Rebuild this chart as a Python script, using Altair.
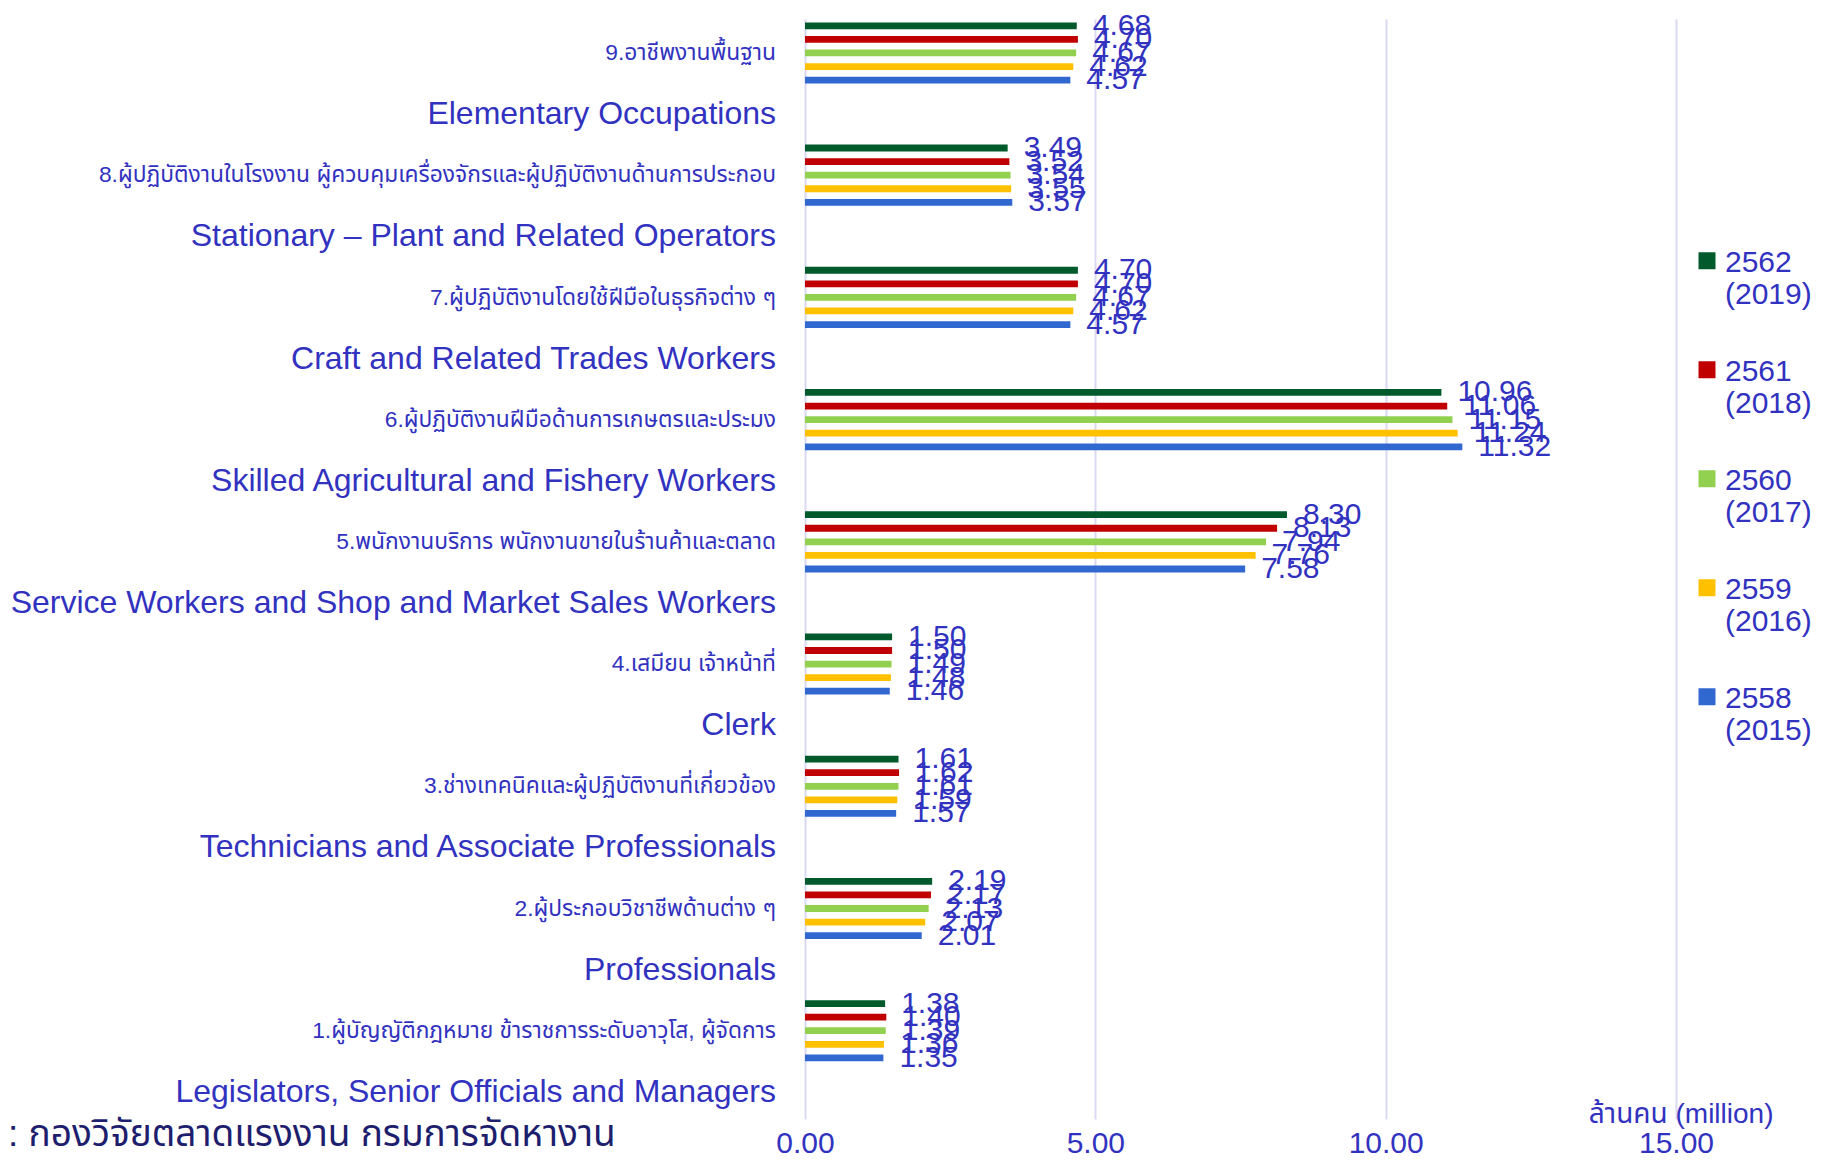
import altair as alt
import pandas as pd

# ---- data (top to bottom as in the chart) ----
categories = ["9", "8", "7", "6", "5", "4", "3", "2", "1"]
thai_labels = [
    "9.อาชีพงานพื้นฐาน",
    "8.ผู้ปฏิบัติงานในโรงงาน  ผู้ควบคุมเครื่องจักรและผู้ปฏิบัติงานด้านการประกอบ",
    "7.ผู้ปฏิบัติงานโดยใช้ฝีมือในธุรกิจต่าง ๆ",
    "6.ผู้ปฏิบัติงานฝีมือด้านการเกษตรและประมง",
    "5.พนักงานบริการ  พนักงานขายในร้านค้าและตลาด",
    "4.เสมียน  เจ้าหน้าที่",
    "3.ช่างเทคนิคและผู้ปฏิบัติงานที่เกี่ยวข้อง",
    "2.ผู้ประกอบวิชาชีพด้านต่าง ๆ",
    "1.ผู้บัญญัติกฎหมาย  ข้าราชการระดับอาวุโส,  ผู้จัดการ",
]
english_labels = [
    "Elementary Occupations",
    "Stationary – Plant  and  Related  Operators",
    "Craft and Related Trades Workers",
    "Skilled Agricultural and Fishery Workers",
    "Service Workers and Shop and Market Sales Workers",
    "Clerk",
    "Technicians  and  Associate Professionals",
    "Professionals",
    "Legislators, Senior Officials and Managers",
]
years = ["2562 (2019)", "2561 (2018)", "2560 (2017)", "2559 (2016)", "2558 (2015)"]
colors = ["#005A2B", "#C00000", "#92D050", "#FFC000", "#3068D0"]

v2562 = [4.68, 3.49, 4.70, 10.96, 8.30, 1.50, 1.61, 2.19, 1.38]
v2561 = [4.70, 3.52, 4.70, 11.06, 8.13, 1.50, 1.62, 2.17, 1.40]
v2560 = [4.67, 3.54, 4.67, 11.15, 7.94, 1.49, 1.61, 2.13, 1.39]
v2559 = [4.62, 3.55, 4.62, 11.24, 7.76, 1.48, 1.59, 2.07, 1.36]
v2558 = [4.57, 3.57, 4.57, 11.32, 7.58, 1.46, 1.57, 2.01, 1.35]

x_ticks = [0, 5, 10, 15]
x_title = "ล้านคน (million)"
footer = [": กองวิจัยตลาดแรงงาน  กรมการจัดหางาน"]

series = [v2562, v2561, v2560, v2559, v2558]
rows = []
for yr, vals in zip(years, series):
    for c, v in zip(categories, vals):
        rows.append({"cat": c, "year": yr, "value": v})
df = pd.DataFrame(rows)
lab = pd.DataFrame({"cat": categories, "thai": thai_labels, "eng": english_labels})
foot = pd.DataFrame({"t": footer})

TXT = "#3232C0"
FONT = "Liberation Sans, Arial, sans-serif"
THAI_FONT = "Liberation Sans, Noto Sans Thai, Loma, Garuda, sans-serif"
W, H = 871, 1100

yscale = alt.Scale(domain=categories, paddingInner=0, paddingOuter=0)
offscale = alt.Scale(domain=years + ["_a", "_b", "_c", "_d"], paddingInner=0.5, paddingOuter=0.25)
xscale = alt.Scale(domain=[0, 15], nice=False)

bars = alt.Chart(df).mark_bar().encode(
    x=alt.X("value:Q", scale=xscale,
            axis=alt.Axis(values=x_ticks, format=".2f", grid=True, gridColor="#D9D9F2",
                          gridWidth=2, domain=False, ticks=False, labelFontSize=30,
                          labelFlush=False,
                          labelColor=TXT, labelFont=FONT, labelPadding=9,
                          title=x_title, titleFont=THAI_FONT, titleFontSize=28,
                          titleFontWeight="normal", titleColor=TXT, titleAnchor="start",
                          titleAlign="right", titleBaseline="middle", titleX=968, titleY=-5)),
    y=alt.Y("cat:N", scale=yscale, axis=None),
    yOffset=alt.YOffset("year:N", scale=offscale),
    color=alt.Color("year:N", scale=alt.Scale(domain=years, range=colors),
                    legend=alt.Legend(title=None, orient="none", legendX=887, legendY=214,
                                      symbolType="M-1,0.5H1V2.5H-1Z", symbolSize=289,
                                      symbolStrokeWidth=0,
                                      labelFont=FONT, labelFontSize=30, labelColor=TXT,
                                      labelOffset=3, rowPadding=32, labelBaseline="top",
                                      labelExpr="split(datum.label, ' ')")),
)

values = alt.Chart(df).mark_text(align="left", baseline="middle", dx=16, fontSize=30,
                                 font=FONT, color=TXT).encode(
    x=alt.X("value:Q", scale=xscale),
    y=alt.Y("cat:N", scale=yscale, axis=None),
    yOffset=alt.YOffset("year:N", scale=offscale),
    text=alt.Text("value:Q", format=".2f"),
)

thai = alt.Chart(lab).mark_text(align="right", baseline="middle", dy=-27, fontSize=22.8,
                                font=THAI_FONT, color=TXT).encode(
    x=alt.value(-29),
    y=alt.Y("cat:N", scale=yscale, axis=None),
    text="thai:N",
)

eng = alt.Chart(lab).mark_text(align="right", baseline="middle", dy=34, fontSize=32,
                               font=FONT, color=TXT).encode(
    x=alt.value(-29),
    y=alt.Y("cat:N", scale=yscale, axis=None),
    text="eng:N",
)

foot_txt = alt.Chart(foot).mark_text(align="left", baseline="middle", fontSize=37,
                                     font=THAI_FONT, color="#1E1E6E").encode(
    x=alt.value(-797),
    y=alt.value(H + 16),
    text="t:N",
)

chart = alt.layer(bars, values, thai, eng, foot_txt).properties(
    width=W, height=H, padding={"top": 2, "left": 0, "right": 0, "bottom": 0}
).configure_view(stroke=None)

chart.save("out.html", embed_options={"renderer": "svg", "actions": False})
